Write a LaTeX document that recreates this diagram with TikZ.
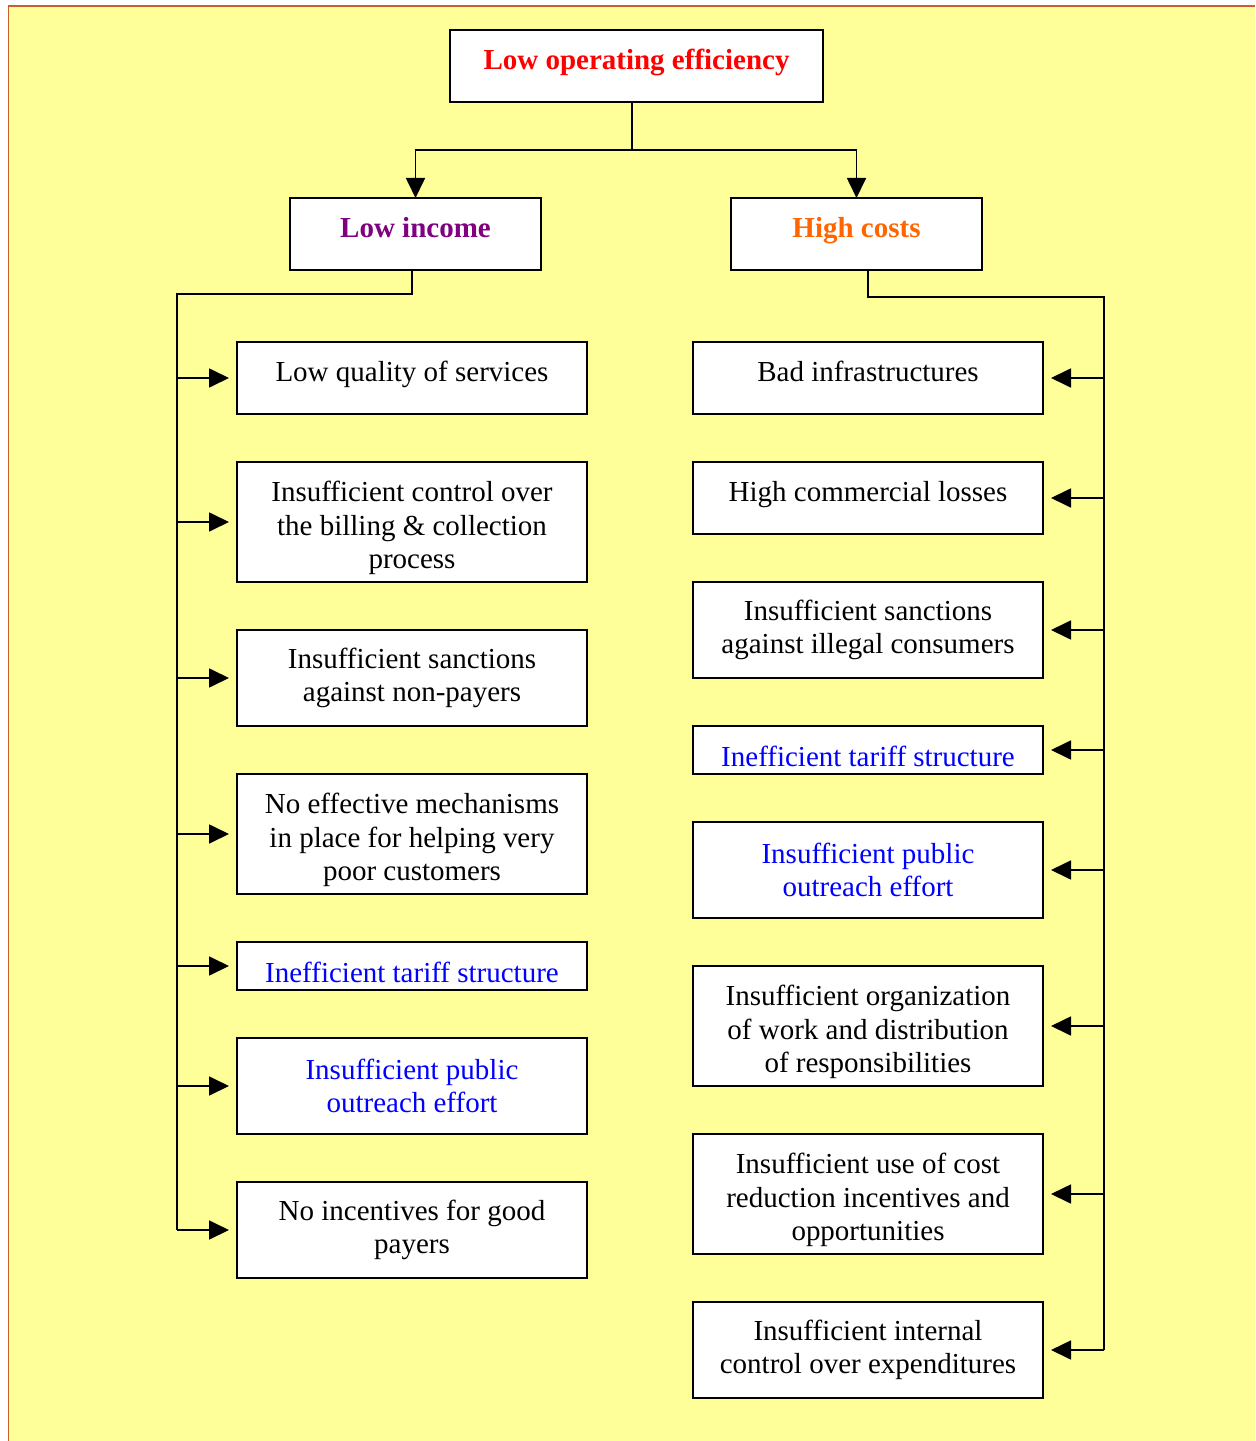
\documentclass[tikz,border=0pt]{standalone}
\usepackage{fontspec}
\setmainfont{Liberation Serif}
\usepackage{tikz}
\usetikzlibrary{positioning,arrows.meta}

\definecolor{pageyellow}{HTML}{FFFF99}
\definecolor{framebrown}{RGB}{200,95,45}
\definecolor{topred}{HTML}{FF0000}
\definecolor{incpurple}{HTML}{800080}
\definecolor{costorange}{HTML}{FF6600}
\definecolor{linkblue}{HTML}{0000FF}

\newcommand{\tallstrut}{\rule{0pt}{0.65cm}}

\begin{document}
\begin{tikzpicture}[%
	>={Triangle[length=0.4cm,width=0.38cm]},
	node distance=0.96cm and 1cm,
	font=\fontsize{16.5}{19}\selectfont,
	line width=1pt,
	box/.style={draw, fill=white, align=center, inner sep=2pt, outer sep=0pt,
		minimum width=7cm, minimum height=1.44cm},
	headbox/.style={draw, fill=white, align=center, outer sep=0pt, oneline,
		font=\fontsize{16.5}{19}\selectfont\bfseries, minimum height=1.44cm},
	oneline/.style={text height=0.42cm, text depth=0.28cm},
	tall/.style={minimum height=2.4cm},
	mid/.style={minimum height=1.92cm},
	thin/.style={minimum height=0.96cm, text height=0.72cm, text depth=0.08cm},
	blue/.style={text=linkblue},
	feed/.style={->, shorten >=0.16cm}
	]
	% page
	\useasboundingbox (0,0) rectangle (25.1,-28.82);
	\fill[pageyellow] (0.17,-0.12) rectangle (25.1,-28.82);
	\draw[framebrown, line width=0.8pt] (0.17,-28.82) -- (0.17,-0.12) -- (25.1,-0.12);
	
	% heads
	\node[headbox, minimum width=7.46cm, text=topred] (top) at (12.73,-1.32) {Low operating efficiency};
	\node[headbox, minimum width=5.02cm, text=incpurple] (inc) at (8.31,-4.68) {Low income};
	\node[headbox, minimum width=5.02cm, text=costorange] (cost) at (17.13,-4.68) {High costs};
	
	% low income causes
	\node[box, oneline] (l1) at (8.24,-7.56) {Low quality of services};
	\node[box, tall] (l2) [below=of l1] {\tallstrut Insufficient control over\\the billing \& collection\\process};
	\node[box, mid] (l3) [below=of l2] {Insufficient sanctions\\against non-payers};
	\node[box, tall] (l4) [below=of l3] {\tallstrut No effective mechanisms\\in place for helping very\\poor customers};
	\node[box, thin, blue] (l5) [below=of l4] {Inefficient tariff structure};
	\node[box, mid, blue] (l6) [below=of l5] {Insufficient public\\outreach effort};
	\node[box, mid] (l7) [below=of l6] {No incentives for good\\payers};
	
	% high costs causes
	\node[box, oneline] (r1) at (17.36,-7.56) {Bad infrastructures};
	\node[box, oneline] (r2) [below=of r1] {High commercial losses};
	\node[box, mid] (r3) [below=of r2] {Insufficient sanctions\\against illegal consumers};
	\node[box, thin, blue] (r4) [below=of r3] {Inefficient tariff structure};
	\node[box, mid, blue] (r5) [below=of r4] {Insufficient public\\outreach effort};
	\node[box, tall] (r6) [below=of r5] {\tallstrut Insufficient organization\\of work and distribution\\of responsibilities};
	\node[box, tall] (r7) [below=of r6] {\tallstrut Insufficient use of cost\\reduction incentives and\\opportunities};
	\node[box, mid] (r8) [below=of r7] {Insufficient internal\\control over expenditures};
	
	% top split
	\coordinate (split) at (12.64,-3);
	\draw (top.south -| split) -- (split);
	\draw[->] (split) -| (inc.north);
	\draw[->] (split) -| (cost.north);
	
	% trunks
	\coordinate (ltrunk) at (3.54,-5.88);
	\coordinate (rtrunk) at (22.08,-5.94);
	\draw (inc.south -| l1.north) |- (ltrunk) -- (ltrunk |- l7.west);
	\draw (cost.south -| r1.north) |- (rtrunk) -- (rtrunk |- r8.east);
	\foreach \n in {l1,l2,l3,l4,l5,l6,l7}
		\draw[feed] (ltrunk |- \n.west) -- (\n.west);
	\foreach \n in {r1,r2,r3,r4,r5,r6,r7,r8}
		\draw[feed] (rtrunk |- \n.east) -- (\n.east);
\end{tikzpicture}
\end{document}
